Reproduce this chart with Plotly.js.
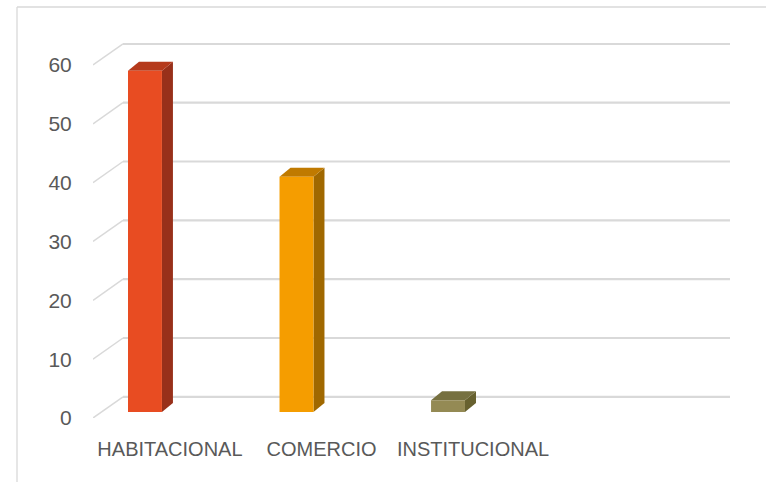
<!DOCTYPE html>
<html>
<head>
<meta charset="utf-8">
<script src="https://cdn.plot.ly/plotly-3.0.1.min.js"></script>
<style>html,body{margin:0;padding:0;background:#fff;}#chart{width:766px;height:482px;}</style>
</head>
<body>
<div id="chart"></div>
<script>
const categories = ["HABITACIONAL", "COMERCIO", "INSTITUCIONAL"];
const values = [58, 40, 2];
const frontColors = ["#E84C22", "#F59D00", "#948A54"];
const sideColors = ["#98301A", "#A06800", "#67612F"];
const topColors = ["#B53A1C", "#C07A00", "#767040"];
const yTicks = [0, 10, 20, 30, 40, 50, 60];

// 3D look parameters (in axis units)
const xRange = [-0.508, 3.696];
const yRange = [0, 63.74];
const wallDx = 0.198, wallDy = 3.6;
const barShift = -0.165, barWidth = 0.224, barBase = 1.02;
const depthDx = 0.0726, depthDy = 1.53;

const xs = categories.map((c, i) => i + barShift);
const shapes = [];

// gridlines: diagonal on the side + back wall line
yTicks.forEach(t => {
  shapes.push({type: 'line', layer: 'below', xref: 'x', yref: 'y',
    x0: xRange[0], y0: t, x1: xRange[0] + wallDx, y1: t + wallDy,
    line: {color: '#D9D9D9', width: 1.5}});
  shapes.push({type: 'line', layer: 'below', xref: 'x', yref: 'y',
    x0: xRange[0] + wallDx, y0: t + wallDy, x1: xRange[1], y1: t + wallDy,
    line: {color: '#D9D9D9', width: 2.2}});
});

// 3D side and top faces of bars
values.forEach((v, i) => {
  const x0 = xs[i] - barWidth / 2, x1 = xs[i] + barWidth / 2;
  const b = barBase, tp = barBase + v;
  shapes.push({type: 'path', layer: 'below', xref: 'x', yref: 'y',
    path: `M${x1},${b} L${x1 + depthDx},${b + depthDy} L${x1 + depthDx},${tp + depthDy} L${x1},${tp} Z`,
    fillcolor: sideColors[i], line: {width: 0}});
  shapes.push({type: 'path', layer: 'below', xref: 'x', yref: 'y',
    path: `M${x0},${tp} L${x0 + depthDx},${tp + depthDy} L${x1 + depthDx},${tp + depthDy} L${x1},${tp} Z`,
    fillcolor: topColors[i], line: {width: 0}});
});

// chart area border (left and top edges)
shapes.push({type: 'line', xref: 'paper', yref: 'paper', layer: 'below',
  x0: (17 - 93) / 637, y0: (418 - 7) / 375, x1: (17 - 93) / 637, y1: (418 - 490) / 375,
  line: {color: '#D9D9D9', width: 1.3}});
shapes.push({type: 'line', xref: 'paper', yref: 'paper', layer: 'below',
  x0: (17 - 93) / 637, y0: (418 - 7) / 375, x1: (770 - 93) / 637, y1: (418 - 7) / 375,
  line: {color: '#D9D9D9', width: 1.3}});

const trace = {
  type: 'bar',
  x: xs,
  y: values,
  base: values.map(() => barBase),
  width: values.map(() => barWidth),
  marker: {color: frontColors, line: {width: 0}},
  hoverinfo: 'skip'
};

const layout = {
  width: 766, height: 482,
  margin: {l: 93, r: 36, t: 43, b: 64},
  paper_bgcolor: '#fff', plot_bgcolor: 'rgba(0,0,0,0)',
  showlegend: false,
  font: {family: 'Liberation Sans, Arial, sans-serif', color: '#595959', size: 20.5},
  xaxis: {range: xRange, tickvals: categories.map((c, i) => i), ticktext: categories,
    showgrid: false, zeroline: false, showline: false,
    ticks: 'outside', ticklen: 13, tickcolor: 'rgba(0,0,0,0)',
    tickfont: {size: 20}, fixedrange: true},
  yaxis: {range: yRange, tickvals: yTicks, ticktext: yTicks.map(String),
    showgrid: false, zeroline: false, showline: false,
    ticks: 'outside', ticklen: 16, tickcolor: 'rgba(0,0,0,0)',
    tickfont: {size: 21}, fixedrange: true},
  shapes: shapes
};

Plotly.newPlot('chart', [trace], layout, {displayModeBar: false, staticPlot: true});
</script>
</body>
</html>
